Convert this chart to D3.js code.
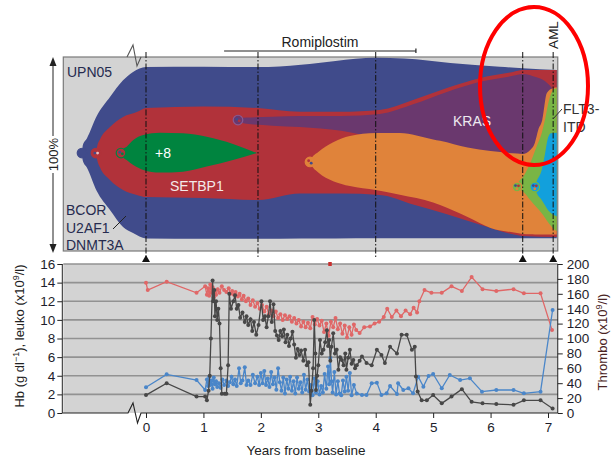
<!DOCTYPE html>
<html><head><meta charset="utf-8">
<script src="https://cdn.jsdelivr.net/npm/d3@7"></script>
<style>
html,body{margin:0;padding:0;background:#fff;}
svg{display:block;font-family:"Liberation Sans",Arial,Helvetica,sans-serif;}
</style></head><body>
<svg id="chart" width="612" height="462"></svg>
<script>
// ---- Clonal composition (fish plot): [year, upper %, lower %] ----
const cloneFounder = [[-1.114,50.5,50.5],[-1.10,54.5,46.5],[-1.03,58,43],[-0.86,69.5,31],[-0.627,79.4,21.1],[-0.40,88,12.4],[-0.226,92.3,9.3],[0,94.8,6.5],[1,95,6.3],[1.95,94.8,6.3],[2.7,96,6.4],[3.3,98,6.5],[4.0,99.6,6.6],[4.5,99.2,6.6],[5.3,96.9,6.6],[6.16,95,6.6],[6.56,94.2,6.6],[7.17,93.3,6.6]];
const cloneSetbp1 = [[-0.871,50.5,50.5],[-0.85,54,47],[-0.80,57.6,43],[-0.627,63.9,36.6],[-0.40,69.1,31.4],[-0.16,71.6,28.9],[0,73.7,27.8],[1,74.5,27.3],[1.95,73.7,26.3],[2.68,71.8,29.6],[3.4,71.8,29.6],[4.07,72.7,28.9],[4.65,77.8,24],[5.24,84,19],[5.82,89.2,13.5],[6.39,92.3,8.6],[6.56,93.3,7.7],[7.17,93.3,7.2]];
const cloneTri8 = [[-0.435,50.5,50.5],[-0.40,52.5,48.5],[-0.336,53.8,46.9],[-0.221,57.2,44.3],[-0.047,59.8,41.8],[0.244,61,40.4],[0.644,60.7,40.9],[1.057,58.9,43.5],[1.515,55.2,46.9],[1.93,50.5,50.5]];
const cloneKras = [[1.602,67.5,67.5],[1.62,68.3,66.6],[1.75,68.8,65.6],[2.2,69.2,64.6],[2.68,69.6,63.9],[3.4,69.6,62],[4.07,70.6,58],[4.65,75.6,56],[5.24,82,54],[5.82,87.2,52],[6.39,90.3,49],[6.56,91.3,48],[6.80,89.5,55],[6.95,87.5,70],[7.04,85,80],[7.09,83,83]];
const cloneOrange = [[2.856,45.9,45.9],[2.88,47.5,44.3],[3.0,51,40.5],[3.26,56,36],[3.55,59.3,33.5],[4.0,60.8,31.4],[4.42,60.8,29],[5.0,57.5,25],[5.12,56.8,23.7],[5.6,53.3,17.5],[6.0,51.5,11.9],[6.46,50.2,9.3],[6.56,50.0,8.8],[6.69,52.1,8.6],[6.77,55.7,8.5],[6.83,62.4,8.5],[6.90,67.5,8.5],[6.98,81.4,8.5],[7.09,84,8.5],[7.17,84.5,8.5]];
const cloneFlt3 = [[6.46,33,33],[6.48,35,31.8],[6.57,38.3,30.6],[6.69,45.2,26.3],[6.80,53.8,22.5],[6.89,60.7,19.5],[6.95,68,17],[7.02,78,14],[7.10,83.3,11.3],[7.17,83.9,9.9]];
const cloneCyan = [[6.77,33,33],[6.79,35,31],[6.89,41.8,26.3],[6.95,50.4,23.5],[6.99,57.2,21.5],[7.05,60.7,19.6],[7.17,61,17.7]];

// sampling time points (years) and the ones flagged with a triangle
const sampleYears = [0, 1.95, 4.0, 6.56, 7.09];
const flaggedSamples = [0, 6.56, 7.09];
const romiplostim = [1.36, 4.70];

// ---- Blood counts: [year, value] ----
const hb = [[0,14.0],[0.03,13.2],[0.36,14.1],[0.88,12.9],[1.03,13.6],[1.06,12.7],[1.08,13.4],[1.10,12.6],[1.12,13.8],[1.14,12.9],[1.16,13.5],[1.18,12.4],[1.20,13.1],[1.22,12.7],[1.25,13.3],[1.28,12.9],[1.32,13.6],[1.36,13.2],[1.40,13.0],[1.44,13.4],[1.47,12.8],[1.50,13.1],[1.53,12.7],[1.56,13.0],[1.60,12.5],[1.63,12.8],[1.67,12.2],[1.70,12.6],[1.74,12.0],[1.78,12.3],[1.82,11.6],[1.86,12.1],[1.90,11.4],[1.94,11.8],[1.98,11.2],[2.02,11.6],[2.06,10.9],[2.10,11.4],[2.14,10.6],[2.18,11.0],[2.22,10.4],[2.26,10.9],[2.30,10.2],[2.34,10.6],[2.38,10.0],[2.42,10.5],[2.46,10.1],[2.50,10.4],[2.54,9.8],[2.58,10.2],[2.62,9.6],[2.66,10.0],[2.70,9.3],[2.74,9.8],[2.78,9.2],[2.82,9.7],[2.86,9.1],[2.90,10.3],[2.94,9.5],[2.98,10.1],[3.02,9.4],[3.06,9.9],[3.10,8.7],[3.14,9.6],[3.18,8.3],[3.22,9.8],[3.26,9.2],[3.30,10.2],[3.34,9.0],[3.38,9.6],[3.42,8.5],[3.46,9.4],[3.50,8.1],[3.54,9.2],[3.58,8.4],[3.62,9.5],[3.66,8.9],[3.72,8.6],[3.80,9.2],[3.90,9.3],[3.98,9.6],[4.06,9.8],[4.14,10.3],[4.20,11.2],[4.28,10.3],[4.36,11.0],[4.44,10.4],[4.52,11.0],[4.60,10.6],[4.66,11.3],[4.72,10.8],[4.76,12.0],[4.85,13.2],[4.97,12.9],[5.15,12.9],[5.32,13.6],[5.50,13.1],[5.67,14.6],[5.86,13.3],[6.10,13.1],[6.40,13.3],[6.58,12.85],[6.87,12.85],[7.07,8.9]];
const hbOffScale = [[3.2,16]];
const leuko = [[0,2.76],[0.36,4.15],[0.88,3.54],[1.03,2.47],[1.06,3.6],[1.08,2.9],[1.10,3.9],[1.12,3.0],[1.14,3.5],[1.16,2.6],[1.18,3.8],[1.20,3.1],[1.22,3.4],[1.24,2.8],[1.27,3.2],[1.30,2.7],[1.33,3.6],[1.36,3.0],[1.40,3.5],[1.43,2.9],[1.46,3.3],[1.49,3.9],[1.52,3.1],[1.55,3.6],[1.58,2.9],[1.62,4.8],[1.65,3.2],[1.68,3.5],[1.72,4.9],[1.75,3.0],[1.78,3.5],[1.82,3.0],[1.86,4.1],[1.90,3.2],[1.94,3.9],[1.97,3.0],[2.00,4.3],[2.03,3.2],[2.06,4.5],[2.09,3.0],[2.12,3.7],[2.15,2.8],[2.18,4.4],[2.21,3.1],[2.24,3.8],[2.27,2.5],[2.30,4.8],[2.33,3.3],[2.36,2.4],[2.39,3.8],[2.42,2.1],[2.45,3.6],[2.48,2.6],[2.51,3.9],[2.54,2.4],[2.57,3.4],[2.60,2.1],[2.63,3.8],[2.66,2.6],[2.69,3.3],[2.72,2.2],[2.75,4.1],[2.78,2.5],[2.81,3.6],[2.84,2.3],[2.87,3.0],[2.90,1.9],[2.93,3.7],[2.96,2.2],[2.99,3.4],[3.02,2.0],[3.05,2.9],[3.08,2.2],[3.11,4.2],[3.14,2.6],[3.17,5.0],[3.19,3.1],[3.21,5.9],[3.23,3.4],[3.25,2.2],[3.28,4.4],[3.31,2.0],[3.34,3.4],[3.37,2.1],[3.40,1.9],[3.43,3.5],[3.46,2.3],[3.49,3.9],[3.52,2.4],[3.55,4.3],[3.58,1.9],[3.62,3.0],[3.67,2.1],[3.76,1.93],[3.84,1.93],[3.93,3.19],[4.02,3.26],[4.10,1.93],[4.19,2.11],[4.25,2.9],[4.37,2.04],[4.39,3.19],[4.48,2.47],[4.57,2.65],[4.65,2.11],[4.74,3.9],[4.83,2.83],[4.92,3.97],[5.0,4.19],[5.15,2.65],[5.29,4.08],[5.47,3.54],[5.64,3.72],[5.85,2.29],[6.1,2.47],[6.4,2.47],[6.58,2.11],[6.87,2.29],[7.08,11.06]];
const thrombo = [[0,24],[0.36,40],[0.88,22],[1.03,22],[1.06,17],[1.09,30],[1.11,50],[1.13,100],[1.16,178],[1.17,150],[1.19,165],[1.20,130],[1.22,150],[1.24,125],[1.26,140],[1.28,120],[1.30,60],[1.32,26],[1.37,26],[1.40,26],[1.43,64],[1.45,160],[1.48,140],[1.52,150],[1.55,158],[1.58,140],[1.61,145],[1.64,128],[1.68,135],[1.72,122],[1.75,130],[1.78,118],[1.82,126],[1.85,110],[1.88,122],[1.92,105],[1.96,118],[2.01,150],[2.04,125],[2.07,130],[2.10,115],[2.13,130],[2.16,150],[2.19,122],[2.22,146],[2.25,110],[2.28,104],[2.31,98],[2.34,110],[2.37,103],[2.40,112],[2.43,95],[2.46,105],[2.49,90],[2.52,100],[2.55,109],[2.58,92],[2.61,74],[2.64,86],[2.67,78],[2.70,84],[2.74,70],[2.77,85],[2.80,64],[2.83,68],[2.86,11],[2.88,30],[2.91,60],[2.93,125],[2.95,80],[2.96,31],[2.98,50],[3.00,64],[3.03,98],[3.06,80],[3.09,85],[3.12,95],[3.15,111],[3.17,90],[3.19,98],[3.21,70],[3.23,89],[3.26,107],[3.29,80],[3.32,85],[3.35,58],[3.38,75],[3.41,71],[3.44,64],[3.47,80],[3.49,58],[3.52,74],[3.55,85],[3.58,66],[3.61,71],[3.64,60],[3.67,64],[3.72,70],[3.76,76],[3.84,67],[3.93,64],[4.02,85],[4.10,78],[4.16,67],[4.25,89],[4.37,80],[4.45,105],[4.54,105],[4.63,85],[4.68,89],[4.70,49],[4.73,29],[4.80,17],[4.89,17],[5.0,24],[5.15,13],[5.32,22],[5.5,32],[5.67,15],[5.86,13],[6.1,12],[6.4,11],[6.58,17],[6.87,17],[7.08,6]];

const yearTicks = [0,1,2,3,4,5,6,7];
const leftTicks = [0,2,4,6,8,10,12,14,16];
const rightTicks = [0,20,40,60,80,100,120,140,160,180,200];

// ---- scales ----
const svg = d3.select("#chart");
const x = d3.scaleLinear().domain([0,7]).range([146,548]);
const xStart = -1.44, xEnd = 7.17;
const fy = d3.scaleLinear().domain([0,100]).range([251,57]);
const yL = d3.scaleLinear().domain([0,16]).range([413,264]);
const yR = d3.scaleLinear().domain([0,200]).range([413,264]);
const px0 = x(xStart), px1 = x(xEnd);

const COL = {blue:"#404b8b", red:"#b1323a", green:"#00843f", purple:"#6a386e", orange:"#e0833a", lgreen:"#79b545", cyan:"#12a0dc", panel:"#d3d3d3"};

// ===== fish plot panel =====
svg.append("rect").attr("x",px0).attr("y",fy(100)).attr("width",px1-px0).attr("height",fy(0)-fy(100))
  .attr("fill",COL.panel).attr("stroke","#7a7a7a").attr("stroke-width",1.2);
svg.append("clipPath").attr("id","fishclip").append("rect")
  .attr("x",px0).attr("y",fy(100)).attr("width",px1-px0-1).attr("height",fy(0)-fy(100));

const area = d3.area().x(d=>x(d[0])).y0(d=>fy(d[2])).y1(d=>fy(d[1])).curve(d3.curveMonotoneX);
const clones = [
  {data:cloneFounder, color:COL.blue},
  {data:cloneSetbp1, color:COL.red},
  {data:cloneTri8, color:COL.green},
  {data:cloneKras, color:COL.purple},
  {data:cloneOrange, color:COL.orange},
  {data:cloneFlt3, color:COL.lgreen},
  {data:cloneCyan, color:COL.cyan}
];
const fish = svg.append("g").attr("clip-path","url(#fishclip)");
fish.selectAll("path.clone").data(clones).join("path").attr("class","clone")
  .attr("d",c=>area(c.data)).attr("fill",c=>c.color);

// clone origin markers
const dotSpecs = [
  {c:cloneFounder, fill:COL.blue, stroke:COL.blue, inner:[]},
  {c:cloneSetbp1, fill:COL.red, stroke:COL.red, inner:[[-1.2,0,COL.blue],[1.6,0,"#e8c0c0"]]},
  {c:cloneTri8, fill:COL.red, stroke:COL.green, inner:[[-1.3,-0.8,COL.blue],[1.3,0.8,COL.green]]},
  {c:cloneKras, fill:COL.purple, stroke:"#8a5a90", inner:[[-1.2,-0.8,COL.blue],[1.2,0.8,COL.red]]},
  {c:cloneOrange, fill:COL.orange, stroke:COL.orange, inner:[[-1.4,-1.2,COL.red],[1.2,1.2,COL.blue]]},
  {c:cloneFlt3, fill:COL.lgreen, stroke:COL.orange, inner:[[-1.5,-1.4,COL.blue],[1.5,-1.2,COL.red],[0,1.8,COL.orange]]},
  {c:cloneCyan, fill:COL.cyan, stroke:COL.lgreen, inner:[[-1.5,-1.4,COL.blue],[1.5,-1.2,COL.red],[0,1.8,COL.orange]]}
];
dotSpecs.forEach(s=>{
  const cx = x(s.c[0][0]), cy = fy(s.c[0][1]);
  svg.append("circle").attr("cx",cx).attr("cy",cy).attr("r",4.8).attr("fill",s.fill).attr("stroke",s.stroke).attr("stroke-width",1.2);
  s.inner.forEach(p=>svg.append("circle").attr("cx",cx+p[0]).attr("cy",cy+p[1]).attr("r",1.4).attr("fill",p[2]));
});

// sample lines
svg.selectAll("line.sample").data(sampleYears).join("line").attr("class","sample")
  .attr("x1",d=>x(d)).attr("x2",d=>x(d)).attr("y1",52).attr("y2",257)
  .attr("stroke","#111").attr("stroke-width",1).attr("stroke-dasharray","6,2,1.5,2");
svg.selectAll("path.flag").data(flaggedSamples).join("path").attr("class","flag")
  .attr("d",d=>`M${x(d)-4},262 L${x(d)+4},262 L${x(d)},255 Z`).attr("fill","#111");

// axis break on top edge of fish panel
svg.append("path").attr("d","M127,57 L133,45 L137,66 L141,57").attr("fill","none").attr("stroke","#555").attr("stroke-width",1.1);

// 100% bracket
svg.append("line").attr("x1",53).attr("x2",53).attr("y1",62).attr("y2",136).attr("stroke","#222").attr("stroke-width",1);
svg.append("line").attr("x1",53).attr("x2",53).attr("y1",173).attr("y2",248).attr("stroke","#222").attr("stroke-width",1);
svg.append("path").attr("d","M49.5,66 L53,57 L56.5,66 Z").attr("fill","#222");
svg.append("path").attr("d","M49.5,244 L53,253 L56.5,244 Z").attr("fill","#222");
svg.append("text").attr("transform","translate(58,154.5) rotate(-90)").attr("text-anchor","middle")
  .attr("font-size",13).attr("fill","#222").text("100%");

// Romiplostim bar
svg.append("line").attr("x1",x(romiplostim[0])).attr("x2",x(romiplostim[1])).attr("y1",51).attr("y2",51).attr("stroke","#222").attr("stroke-width",1.2);
svg.append("line").attr("x1",x(romiplostim[1])).attr("x2",x(romiplostim[1])).attr("y1",48.5).attr("y2",53).attr("stroke","#222").attr("stroke-width",1.2);
svg.append("text").attr("x",(x(romiplostim[0])+x(romiplostim[1]))/2).attr("y",47).attr("text-anchor","middle")
  .attr("font-size",14).attr("fill","#222").text("Romiplostim");

// AML label
svg.append("text").attr("transform",`translate(${x(7.09)+5},35) rotate(-90)`).attr("text-anchor","middle")
  .attr("font-size",13.5).attr("fill","#222").text("AML");

// clone labels
const lab = (t,xx,yy,fill,size)=>svg.append("text").attr("x",xx).attr("y",yy).attr("font-size",size||14).attr("fill",fill).text(t);
lab("UPN05",67,77,"#262b4f");
lab("BCOR",66,215,"#262b4f");
lab("U2AF1",66,233,"#262b4f");
lab("DNMT3A",66,250,"#262b4f");
svg.append("line").attr("x1",113).attr("y1",229).attr("x2",126).attr("y2",216).attr("stroke","#222").attr("stroke-width",1);
lab("+8",155,158,"#ffffff");
lab("SETBP1",170,191,"#f4eaea");
lab("KRAS",453,126,"#eeeaf0");
lab("FLT3-",563,114,"#333");
lab("ITD",563,132,"#333");
svg.append("line").attr("x1",553).attr("y1",119).attr("x2",562).attr("y2",109).attr("stroke","#333").attr("stroke-width",1);

// ===== blood count panel =====
svg.append("rect").attr("x",px0).attr("y",yL(16)).attr("width",px1-px0).attr("height",yL(0)-yL(16)).attr("fill",COL.panel);
svg.selectAll("line.grid").data(leftTicks.filter(d=>d>0)).join("line").attr("class","grid")
  .attr("x1",px0).attr("x2",px1).attr("y1",d=>yL(d)).attr("y2",d=>yL(d))
  .attr("stroke","#929292").attr("stroke-width",1.6);

const styleAxis = g=>{
  g.select(".domain").remove();
  g.selectAll(".tick line").attr("stroke","#222");
  g.selectAll(".tick text").attr("font-size",13.5).attr("fill","#1d1d2b").attr("font-family","'Liberation Sans',Arial,sans-serif");
};
svg.append("g").attr("transform",`translate(${px0-1},0)`).call(d3.axisLeft(yL).tickValues(leftTicks).tickFormat(d3.format("d")).tickSize(5).tickPadding(2)).call(styleAxis);
svg.append("g").attr("transform",`translate(${px1},0)`).call(d3.axisRight(yR).tickValues(rightTicks).tickFormat(d3.format("d")).tickSize(5).tickPadding(4)).call(styleAxis);
svg.append("g").attr("transform",`translate(0,${yL(0)})`).call(d3.axisBottom(x).tickValues(yearTicks).tickFormat(d3.format("d")).tickSize(5).tickPadding(4)).call(styleAxis);
// axis lines with the break before baseline
svg.append("line").attr("x1",px0-1).attr("x2",px0-1).attr("y1",yL(16)).attr("y2",yL(0)).attr("stroke","#222");
svg.append("line").attr("x1",px1).attr("x2",px1).attr("y1",yR(200)).attr("y2",yR(0)).attr("stroke","#222");
svg.append("path").attr("d",`M${px0-1},${yL(0)} L128,${yL(0)} L133,${yL(0)-10} L137.5,${yL(0)+10} L141,${yL(0)} L${px1},${yL(0)}`)
  .attr("fill","none").attr("stroke","#222").attr("stroke-width",1.1);

// series
const series = [
  {data:hb, scale:yL, color:"#e06767"},
  {data:leuko, scale:yL, color:"#4a86c9"},
  {data:thrombo, scale:yR, color:"#474747"}
];
series.forEach(s=>{
  const ln = d3.line().x(d=>x(d[0])).y(d=>s.scale(d[1]));
  svg.append("path").attr("d",ln(s.data)).attr("fill","none").attr("stroke",s.color).attr("stroke-width",1.3);
  svg.append("g").selectAll("circle").data(s.data).join("circle")
    .attr("cx",d=>x(d[0])).attr("cy",d=>s.scale(d[1])).attr("r",2).attr("fill",s.color);
});
svg.selectAll("rect.off").data(hbOffScale).join("rect").attr("class","off")
  .attr("x",d=>x(d[0])-1.5).attr("y",d=>yL(d[1])-2).attr("width",3.5).attr("height",4).attr("fill","#c8302f");

// axis titles
const lt = svg.append("text").attr("transform","translate(24,336) rotate(-90)").attr("text-anchor","middle")
  .attr("font-size",13).attr("fill","#222");
lt.append("tspan").text("Hb (g dl");
lt.append("tspan").attr("font-size",9).attr("dy",-5).text("−1");
lt.append("tspan").attr("dy",5).text("), leuko (x10");
lt.append("tspan").attr("font-size",9).attr("dy",-5).text("9");
lt.append("tspan").attr("dy",5).text("/l)");
const rt = svg.append("text").attr("transform","translate(607,342) rotate(-90)").attr("text-anchor","middle")
  .attr("font-size",13).attr("fill","#4a2424");
rt.append("tspan").text("Thrombo (x10");
rt.append("tspan").attr("font-size",9).attr("dy",-5).text("9");
rt.append("tspan").attr("dy",5).text("/l)");
svg.append("text").attr("x",306).attr("y",455).attr("text-anchor","middle").attr("font-size",13.5).attr("fill","#222").text("Years from baseline");

// highlight ring around the AML transition
svg.append("ellipse").attr("cx",534).attr("cy",86).attr("rx",54).attr("ry",79)
  .attr("fill","none").attr("stroke","#ff0000").attr("stroke-width",4);
</script></body></html>
